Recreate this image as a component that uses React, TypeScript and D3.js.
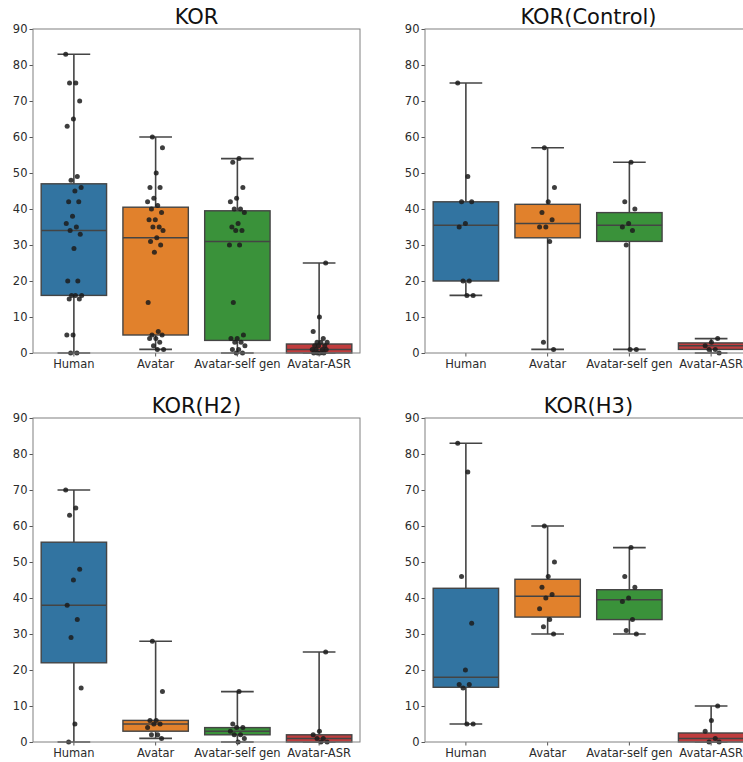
import { useEffect, useRef } from "react";
import * as d3 from "d3";

const categories = ["Human", "Avatar", "Avatar-self gen", "Avatar-ASR"];
const boxColors = ["#3274a1", "#e1812c", "#3a923a", "#c03d3e"];
const yTicks = [0, 10, 20, 30, 40, 50, 60, 70, 80, 90];

// KOR
const korPoints = [
  [83, 75, 75, 70, 65, 63, 49, 48, 46, 45, 42, 42, 38, 36, 35, 34, 33, 29, 20, 20, 16, 16, 16, 15, 15, 5, 5, 0, 0],
  [60, 57, 50, 46, 46, 43, 42, 41, 40, 39, 37, 37, 35, 35, 34, 32, 31, 30, 28, 14, 6, 5, 5, 4, 4, 3, 2, 1, 1],
  [54, 53, 46, 43, 42, 40, 40, 39, 36, 35, 34, 34, 30, 30, 14, 5, 4, 4, 3, 3, 2, 1, 1, 0, 0],
  [25, 10, 6, 4, 3, 3, 3, 2, 2, 2, 1, 1, 1, 1, 0, 0, 0, 0],
];
// [q1, median, q3, whisker low, whisker high]
const korBoxes = [
  [16, 34, 47, 0, 83],
  [5, 32, 40.5, 1, 60],
  [3.5, 31, 39.5, 0, 54],
  [0, 1, 2.5, 0, 25],
];

// KOR(Control)
const controlPoints = [
  [75, 49, 42, 42, 36, 35, 20, 20, 16, 16],
  [57, 46, 42, 39, 37, 35, 35, 31, 3, 1],
  [53, 42, 40, 36, 35, 34, 30, 1, 1],
  [4, 3, 2, 1, 1, 0],
];
const controlBoxes = [
  [20, 35.5, 42, 16, 75],
  [32, 36, 41.3, 1, 57],
  [31, 35.5, 39, 1, 53],
  [1, 2, 2.8, 0, 4],
];

// KOR(H2)
const h2Points = [
  [70, 65, 63, 48, 45, 38, 34, 29, 15, 5, 0],
  [28, 14, 6, 6, 5, 5, 4, 2, 2, 1],
  [14, 5, 4, 4, 3, 2, 2, 1, 0],
  [25, 3, 2, 1, 1, 0, 0],
];
const h2Boxes = [
  [22, 38, 55.5, 0, 70],
  [3, 5, 6, 1, 28],
  [2, 3, 4, 0, 14],
  [0, 1, 2, 0, 25],
];

// KOR(H3)
const h3Points = [
  [83, 75, 46, 33, 20, 16, 16, 15, 5, 5],
  [60, 50, 46, 43, 41, 40, 37, 34, 32, 30],
  [54, 46, 43, 40, 39, 34, 31, 30],
  [10, 6, 3, 1, 0, 0],
];
const h3Boxes = [
  [15.2, 18, 42.7, 5, 83],
  [34.7, 40.5, 45.2, 30, 60],
  [34, 39.5, 42.3, 30, 54],
  [0, 1, 2.5, 0, 10],
];

const font = "'DejaVu Sans', sans-serif";
const lineColor = "#444";

function BoxPanel({ title, points, boxes, left, top }) {
  const gRef = useRef();

  useEffect(() => {
    const width = 327;
    const height = 324;

    const g = d3.select(gRef.current);
    g.selectAll("*").remove();

    const xScale = d3.scaleBand().domain(categories).range([0, width]);
    const yScale = d3.scaleLinear().domain([0, 90]).range([height, 0]);
    const bw = xScale.bandwidth() * 0.8;

    const cx = (i) => xScale(categories[i]) + xScale.bandwidth() / 2;

    // boxes + whiskers
    boxes.forEach((b, i) => {
      const c = cx(i);
      const [q1, med, q3, lo, hi] = b;
      const wg = g.append("g").attr("stroke", lineColor).attr("stroke-width", 1.6);
      wg.append("line").attr("x1", c).attr("x2", c).attr("y1", yScale(q3)).attr("y2", yScale(hi));
      wg.append("line").attr("x1", c).attr("x2", c).attr("y1", yScale(q1)).attr("y2", yScale(lo));
      wg.append("line").attr("x1", c - bw / 4).attr("x2", c + bw / 4).attr("y1", yScale(hi)).attr("y2", yScale(hi));
      wg.append("line").attr("x1", c - bw / 4).attr("x2", c + bw / 4).attr("y1", yScale(lo)).attr("y2", yScale(lo));

      g.append("rect")
        .attr("x", c - bw / 2)
        .attr("y", yScale(q3))
        .attr("width", bw)
        .attr("height", yScale(q1) - yScale(q3))
        .attr("fill", boxColors[i])
        .attr("stroke", lineColor)
        .attr("stroke-width", 1.4);

      g.append("line")
        .attr("x1", c - bw / 2).attr("x2", c + bw / 2)
        .attr("y1", yScale(med)).attr("y2", yScale(med))
        .attr("stroke", lineColor)
        .attr("stroke-width", 1.5);
    });

    // strip points
    points.forEach((vals, i) => {
      const c = cx(i);
      g.append("g")
        .selectAll("circle")
        .data(vals)
        .enter()
        .append("circle")
        .attr("cx", (d, j) => c + (((j * 0.618034 + i * 0.3) % 1) - 0.5) * 0.2 * xScale.bandwidth())
        .attr("cy", d => yScale(d))
        .attr("r", 2.5)
        .attr("fill", "#1c1c1c")
        .attr("opacity", 0.85);
    });

    // axes
    const yAxis = g.append("g")
      .call(d3.axisLeft(yScale).tickValues(yTicks).tickSize(3.5).tickPadding(2));
    const xAxis = g.append("g")
      .attr("transform", `translate(0,${height})`)
      .call(d3.axisBottom(xScale).tickSize(3.5).tickPadding(3));

    [yAxis, xAxis].forEach(ax => {
      ax.select(".domain").remove();
      ax.selectAll("line").attr("stroke", "#555");
      ax.selectAll("text")
        .attr("fill", "#2b2b2b")
        .style("font-family", font)
        .style("font-size", "11.5px");
    });

    g.append("rect")
      .attr("x", 0).attr("y", 0)
      .attr("width", width).attr("height", height)
      .attr("fill", "none")
      .attr("stroke", "#808080")
      .attr("stroke-width", 1);

    g.append("text")
      .attr("x", width / 2)
      .attr("y", -5)
      .attr("text-anchor", "middle")
      .style("font-family", font)
      .style("font-size", "21px")
      .attr("fill", "#111")
      .text(title);
  }, []);

  return <g ref={gRef} transform={`translate(${left},${top})`} />;
}

export default function App() {
  return (
    <svg width={743} height={762} style={{ position: "absolute", left: 0, top: 0, background: "#fff" }}>
      <BoxPanel title="KOR" points={korPoints} boxes={korBoxes} left={33} top={29} />
      <BoxPanel title="KOR(Control)" points={controlPoints} boxes={controlBoxes} left={425} top={29} />
      <BoxPanel title="KOR(H2)" points={h2Points} boxes={h2Boxes} left={33} top={418} />
      <BoxPanel title="KOR(H3)" points={h3Points} boxes={h3Boxes} left={425} top={418} />
    </svg>
  );
}
